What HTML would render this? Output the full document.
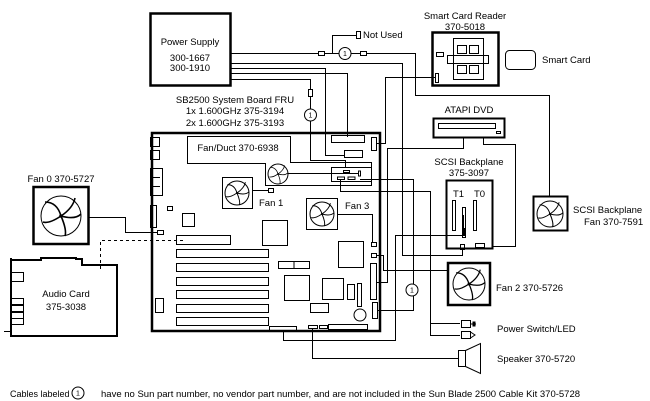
<!DOCTYPE html>
<html><head><meta charset="utf-8"><style>
html,body{margin:0;padding:0;background:#fff;}
svg{display:block;font-family:"Liberation Sans",sans-serif;font-size:9.5px;}
</style></head><body>
<svg width="650" height="401" viewBox="0 0 650 401" xmlns="http://www.w3.org/2000/svg">
<defs>
<g id="fan">
<circle cx="0" cy="0" r="0.9" fill="#000"/>
<path d="M0,0 Q-2,-7 -8,-7 M0,0 Q6,-4 7,-9 M0,0 Q7,2 10,-1 M0,0 Q3,7 2,10 M0,0 Q-6,4 -9,3" fill="none" stroke="#000" stroke-width="0.8"/>
</g>
</defs>
<g fill="none" stroke="#000" stroke-width="1">
<rect x="150.5" y="13.5" width="80" height="72" stroke-width="2.5"/>
<path d="M231,53.5 H318 M324,53.5 H339 M351,53.5 H360 M366,53.5 H415.5 V95.5 H549.5 V196"/>
<rect x="318.5" y="51.5" width="6" height="4"/><rect x="360.5" y="51.5" width="6" height="4"/>
<circle cx="345" cy="53.5" r="6"/>
<path d="M332.5,53.5 V35.5 H356"/><rect x="356.5" y="31.5" width="4" height="7"/>
<path d="M231,63.5 H402.5 V255.5 H462.5 V249"/>
<path d="M231,68.5 H325.5 V155.5 H344"/>
<path d="M231,73.5 H347.5 V137"/>
<path d="M231,79.5 H310.5 V89 M310.5,96 V109 M310.5,121 V160.5 H345.5 V168"/>
<rect x="308.5" y="89.5" width="4" height="7"/>
<circle cx="310.5" cy="115" r="6"/>
<rect x="152" y="133" width="228" height="198" stroke-width="2.5"/>
<rect x="150.5" y="137.5" width="9" height="9"/><rect x="150.5" y="150.5" width="9" height="9"/>
<rect x="150.5" y="168.5" width="12" height="27"/><path d="M150,177.5 H160 M150,186.5 H160"/>
<rect x="150.5" y="205.5" width="6" height="22"/>
<rect x="167.5" y="206.5" width="5" height="4"/>
<rect x="182.5" y="213.5" width="12" height="13"/>
<rect x="176.5" y="235.5" width="54" height="9"/>
<rect x="176.5" y="249.5" width="92" height="8"/><rect x="176.5" y="263.5" width="92" height="8"/>
<rect x="176.5" y="277.5" width="92" height="8"/><rect x="176.5" y="290.5" width="92" height="8"/>
<rect x="176.5" y="304.5" width="92" height="8"/><rect x="176.5" y="317.5" width="92" height="8"/>
<rect x="155.5" y="298.5" width="8" height="14"/>
<rect x="262.5" y="220.5" width="25" height="25"/>
<rect x="338.5" y="241.5" width="25" height="26"/>
<rect x="278.5" y="261.5" width="31" height="7"/><path d="M294,261 V269"/>
<rect x="284.5" y="275.5" width="25" height="25"/>
<rect x="322.5" y="278.5" width="21" height="21"/>
<rect x="347.5" y="284.5" width="7" height="15"/>
<rect x="357.5" y="283.5" width="4" height="23"/>
<rect x="310.5" y="303.5" width="18" height="9"/>
<circle cx="360" cy="315" r="6"/>
<rect x="371.5" y="242.5" width="5" height="4"/><rect x="371.5" y="253.5" width="5" height="4"/>
<rect x="370.5" y="263.5" width="6" height="36"/><rect x="372.5" y="302.5" width="5" height="16"/>
<rect x="269.5" y="326.5" width="27" height="5"/><rect x="308.5" y="325.5" width="9" height="3"/><rect x="319.5" y="325.5" width="8" height="3"/><rect x="328.5" y="324.5" width="39" height="5"/>
<rect x="331.5" y="135.5" width="33" height="7"/><rect x="344.5" y="150.5" width="18" height="7"/>
<rect x="371.5" y="137.5" width="5" height="13"/>
<rect x="331.5" y="167.5" width="40" height="14"/>
<rect x="343.5" y="170.5" width="6" height="2"/><rect x="358.5" y="171" width="2" height="5"/>
<rect x="337.5" y="177" width="7" height="2.5"/><rect x="348" y="177" width="7" height="2.5"/>
<path d="M187.5,136.5 H290.5 V162.5 H371.5 V185.5 H265.5 V163.5 H187.5 Z"/>
<circle cx="278" cy="174" r="10"/>
<path d="M288,173.5 H358"/>
<path d="M360,179.5 H413.5 V284 M413.5,296 V310.5 H377"/>
<circle cx="412" cy="290" r="6"/>
<path d="M340.5,180 V191.5 H430.5 V335.5 H460 M430.5,323.5 H460"/>
<rect x="222.5" y="177.5" width="30" height="31"/>
<rect x="306.5" y="198.5" width="31" height="31"/>
<path d="M252,190.5 H268"/><rect x="268.5" y="188.5" width="5" height="4"/>
<path d="M337,214.5 H372.5 V242"/>
<rect x="33.5" y="187" width="55" height="57" stroke-width="2.5"/>
<circle cx="61" cy="216" r="20"/>
<path d="M89,217.5 H125.5 V232.5 H157"/><rect x="157.5" y="230.5" width="6" height="4"/>
<path d="M11,258 V336 H117 V265 H82 V259 H76 V258 H41 V260 H11" stroke-width="2"/>
<rect x="11.5" y="272.5" width="12" height="9"/>
<rect x="11.5" y="298.5" width="12" height="6"/><rect x="11.5" y="305.5" width="12" height="6"/>
<rect x="11.5" y="312.5" width="12" height="6"/><rect x="11.5" y="318.5" width="12" height="6"/>
<path d="M4,331.5 H11"/>
<path d="M100.5,269 V240.5 H183" stroke-dasharray="3,3"/>
<path d="M377,143.5 H385.5 V77.5 H435"/>
<path d="M376,282.5 H387.5 V148.5 H463.5 V138"/>
<path d="M377,255.5 H383.5 V270.5 H448"/>
<path d="M283.5,331 V340.5 H395.5 V235.5 H463.5 V215"/>
<path d="M312.5,328 V358.5 H458"/>
<rect x="432.5" y="32.5" width="66" height="53" stroke-width="2.5"/>
<rect x="453.5" y="38.5" width="30" height="41"/>
<rect x="447.5" y="55.5" width="41" height="8"/>
<rect x="457.5" y="45.5" width="9" height="8"/><rect x="469.5" y="45.5" width="9" height="8"/>
<rect x="457.5" y="65.5" width="9" height="8"/><rect x="469.5" y="65.5" width="9" height="8"/>
<rect x="436.5" y="52.5" width="7" height="4"/><rect x="435.5" y="73.5" width="3" height="9"/>
<rect x="505.5" y="50.5" width="30" height="19" rx="4"/>
<rect x="433.5" y="118.5" width="71" height="19" stroke-width="2"/>
<rect x="438.5" y="123.5" width="57" height="5"/><rect x="496.5" y="131.5" width="4" height="2"/>
<path d="M483.5,138 V144.5 H515.5 V246.5 H492"/>
<rect x="446.5" y="180.5" width="46" height="68" stroke-width="2"/>
<rect x="452.5" y="200.5" width="3" height="30"/><rect x="462.5" y="207.5" width="3" height="30"/><rect x="473.5" y="200.5" width="3" height="30"/>
<path d="M464.5,228 V236"/>
<rect x="460.5" y="244.5" width="4" height="5"/><rect x="475.5" y="243.5" width="9" height="4"/>
<rect x="533.5" y="196.5" width="34" height="34" stroke-width="2"/>
<circle cx="550" cy="214" r="13"/>
<rect x="448" y="263" width="42" height="42" stroke-width="2.5"/>
<circle cx="469" cy="284" r="16"/>
<rect x="461.5" y="320.5" width="9" height="7"/><path d="M470,324 H476"/><rect x="473" y="322" width="2" height="4" fill="#000"/>
<rect x="461.5" y="331.5" width="9" height="7"/><path d="M470.5,332 L475,335 L470.5,338"/>
<rect x="458.5" y="350.5" width="7" height="16"/>
<path d="M465.5,350.5 L480.5,343.5 V373.5 L465.5,366.5"/>
<circle cx="78" cy="393" r="6"/>
<circle cx="237" cy="193" r="12"/>
<circle cx="322" cy="214" r="12"/>
</g>
<use href="#fan" transform="translate(237,193) scale(1.2)"/>
<use href="#fan" transform="translate(322,214) scale(1.2)"/>
<use href="#fan" transform="translate(61,216) scale(2)"/>
<use href="#fan" transform="translate(550,214) scale(1.3)"/>
<use href="#fan" transform="translate(469,284) scale(1.6)"/>
<use href="#fan" transform="translate(278,174) scale(0.95)"/>
<g fill="#000" text-anchor="middle">
<text x="190" y="45">Power Supply</text>
<text x="190" y="61">300-1667</text>
<text x="190" y="71">300-1910</text>
<text x="235" y="103">SB2500 System Board FRU</text>
<text x="235" y="114">1x 1.600GHz 375-3194</text>
<text x="235" y="126">2x 1.600GHz 375-3193</text>
<text x="238" y="151">Fan/Duct 370-6938</text>
<text x="61" y="182">Fan 0 370-5727</text>
<text x="66" y="297">Audio Card</text>
<text x="66" y="310">375-3038</text>
<text x="465" y="19">Smart Card Reader</text>
<text x="465" y="30">370-5018</text>
<text x="469" y="113">ATAPI DVD</text>
<text x="469" y="165">SCSI Backplane</text>
<text x="469" y="176">375-3097</text>
<text x="345" y="56" font-size="7">1</text>
<text x="310.5" y="117.5" font-size="7">1</text>
<text x="412" y="292.5" font-size="7">1</text>
<text x="78" y="395.5" font-size="7">1</text>
</g>
<g fill="#000">
<text x="363" y="38">Not Used</text>
<text x="542" y="63">Smart Card</text>
<text x="259" y="206">Fan 1</text>
<text x="345" y="209">Fan 3</text>
<text x="453" y="197">T1</text><text x="474" y="197">T0</text>
<text x="573" y="213">SCSI Backplane</text>
<text x="584" y="225">Fan 370-7591</text>
<text x="496" y="291">Fan 2 370-5726</text>
<text x="497" y="332">Power Switch/LED</text>
<text x="497" y="362">Speaker 370-5720</text>
<text x="10" y="397" font-size="9">Cables labeled</text>
<text x="101" y="397">have no Sun part number, no vendor part number, and are not included in the Sun Blade 2500 Cable Kit 370-5728</text>
</g>
</svg>
</body></html>
